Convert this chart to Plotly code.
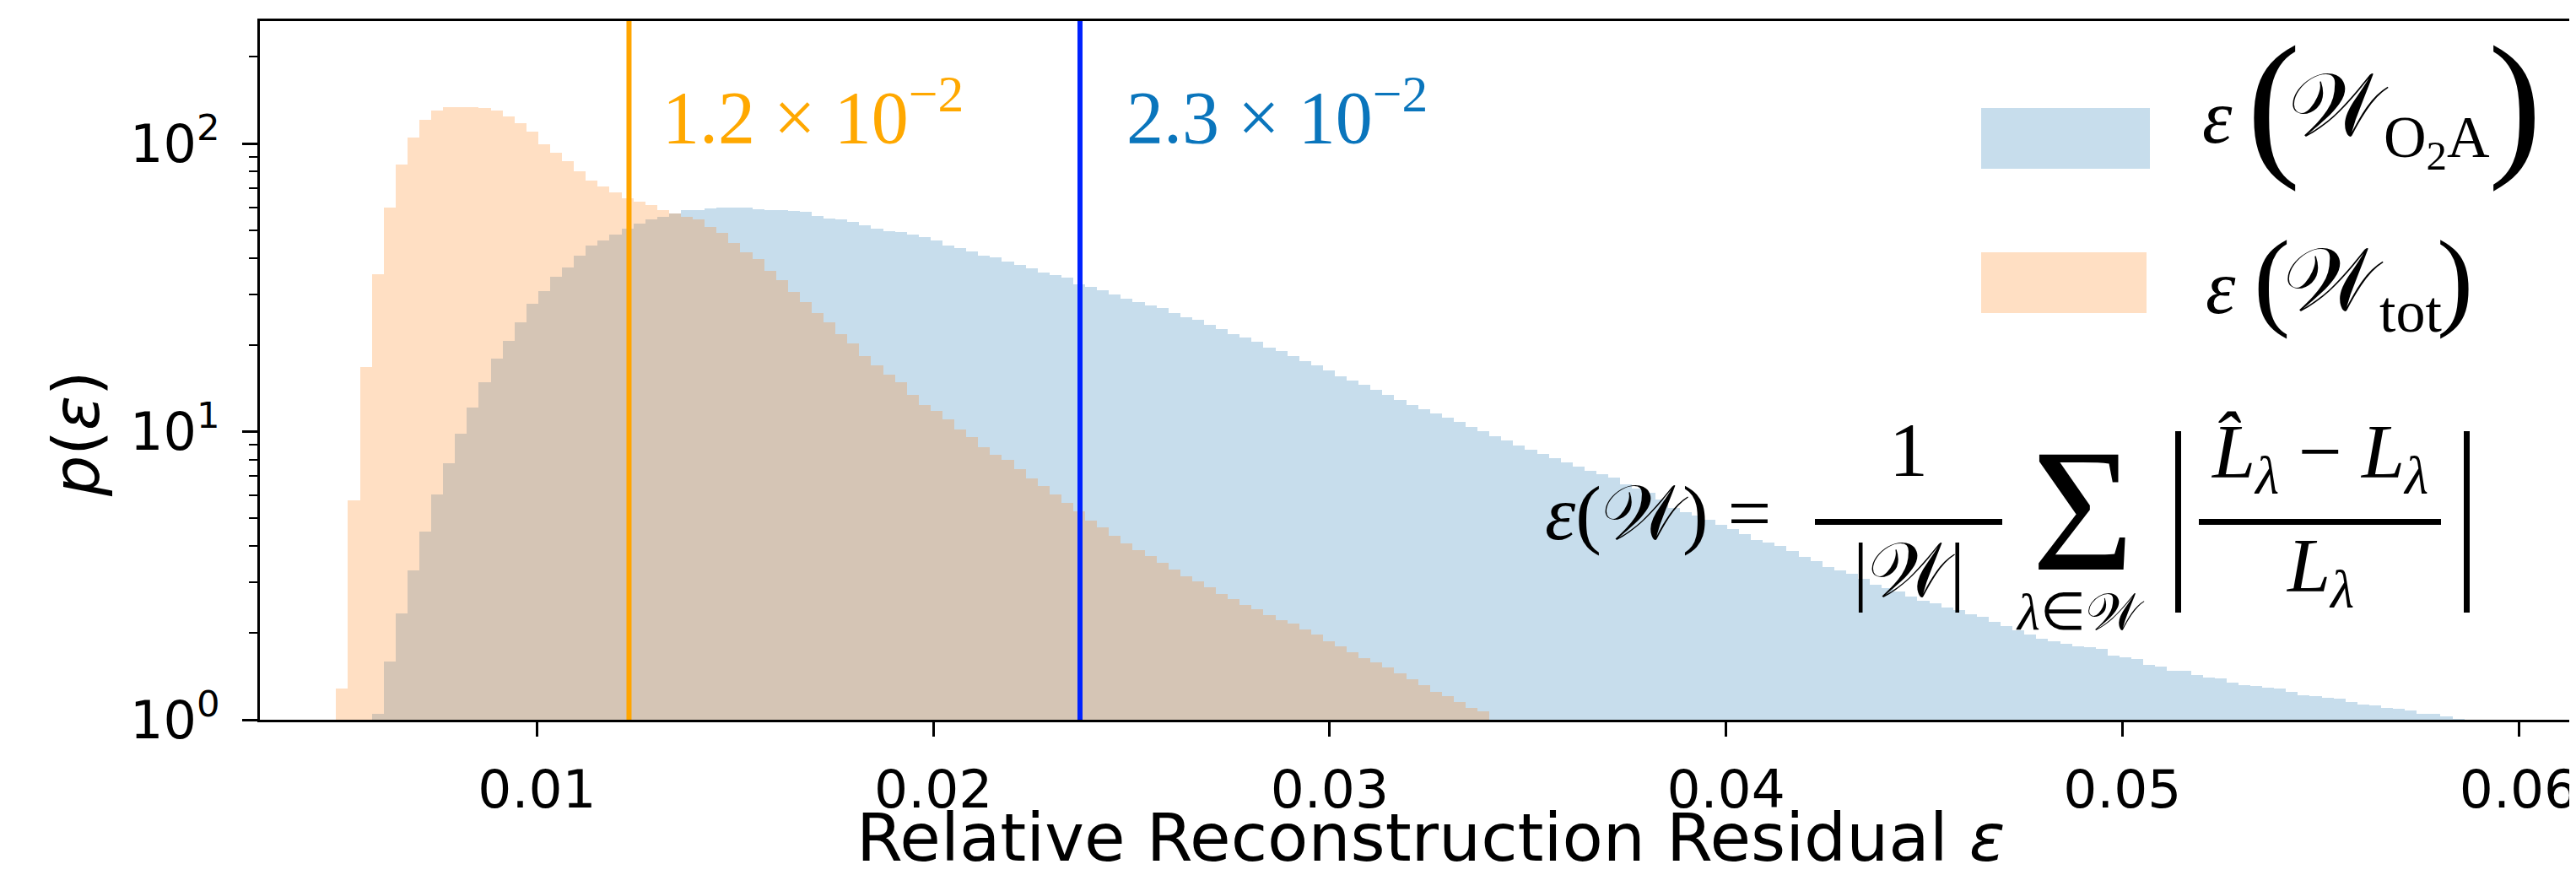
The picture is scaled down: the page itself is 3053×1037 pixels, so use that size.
import numpy as np
import plotly.graph_objects as go

# ---------------- data ----------------
BIN_WIDTH = 0.0003
TOT_FIRST_EDGE = 0.00493   # left edge of first W_tot bin
O2A_FIRST_EDGE = 0.00583   # left edge of first W_O2A bin

p_tot = [1.28, 5.77, 16.7, 35.2, 60.1, 84.3, 105, 121, 130.5, 133.6,
         133.6, 133.6, 132.7, 130, 124.3, 118, 109.8, 99.7, 92.7, 86.6,
         80, 74.6, 70.9, 67.8, 64.6, 62.8, 61.1, 58.7, 57.1, 55.7,
         54.4, 51.4, 49.0, 45.1, 41.8, 39.8, 36.2, 33.6, 30.5, 28.2,
         25.8, 24.0, 21.8, 20.2, 18.3, 17.0, 15.8, 14.8, 13.4, 12.4,
         11.8, 11.0, 10.2, 9.55, 8.82, 8.29, 7.96, 7.43, 6.89, 6.47,
         6.04, 5.67, 5.3, 4.91, 4.66, 4.35, 4.10, 3.88, 3.69, 3.50,
         3.33, 3.14, 3.03, 2.88, 2.73, 2.62, 2.51, 2.42, 2.30, 2.22,
         2.15, 2.06, 1.97, 1.87, 1.80, 1.72, 1.64, 1.58, 1.52, 1.45,
         1.38, 1.32, 1.25, 1.21, 1.15, 1.10, 1.07]

p_o2a = [1.05, 1.59, 2.34, 3.30, 4.50, 6.04, 7.76, 9.84, 12.15, 14.8,
         17.9, 20.7, 24.0, 27.7, 30.7, 34.4, 37.1, 40.8, 44.2, 46.1,
         48.2, 50.6, 52.9, 54.4, 55.7, 57.1, 58.7, 58.7, 59.7, 60.1,
         60.1, 60.1, 59.0, 58.7, 58.7, 58.3, 57.9, 56.1, 54.8, 54.4,
         53.4, 52.0, 50.6, 49.7, 49.4, 48.2, 47.4, 46.1, 44.1, 43.5,
         42.3, 40.8, 40.2, 38.8, 37.8, 36.8, 35.6, 35.0, 34.2, 32.4,
         31.8, 31.0, 30.0, 28.9, 28.2, 27.5, 26.8, 25.8, 25.0, 24.4,
         23.5, 22.7, 21.8, 21.2, 20.5, 19.6, 19.0, 18.3, 17.6, 17.0,
         16.3, 15.6, 15.0, 14.5, 14.0, 13.4, 12.9, 12.4, 12.0, 11.6,
         11.2, 10.8, 10.4, 10.05, 9.62, 9.29, 8.97, 8.67, 8.37, 8.09,
         7.81, 7.55, 7.30, 7.12, 6.93, 6.58, 6.36, 6.14, 5.8, 5.43,
         5.27, 5.10, 4.93, 4.76, 4.60, 4.40, 4.21, 4.12, 4.01, 3.85,
         3.68, 3.55, 3.40, 3.29, 3.21, 3.09, 2.94, 2.87, 2.78, 2.68,
         2.59, 2.54, 2.45, 2.40, 2.32, 2.27, 2.19, 2.12, 2.05, 1.98,
         1.91, 1.87, 1.83, 1.80, 1.79, 1.76, 1.67, 1.65, 1.62, 1.55,
         1.53, 1.48, 1.48, 1.43, 1.40, 1.39, 1.35, 1.32, 1.31, 1.29,
         1.28, 1.25, 1.22, 1.21, 1.19, 1.18, 1.15, 1.13, 1.12, 1.10,
         1.09, 1.08, 1.05, 1.05, 1.03, 1.01]

median_tot = 0.01232
median_o2a = 0.0237
label_tot = "1.2 × 10<sup>−2</sup>"
label_o2a = "2.3 × 10<sup>−2</sup>"

x_tickvals = [0.01, 0.02, 0.03, 0.04, 0.05, 0.06]
x_ticktext = ["0.01", "0.02", "0.03", "0.04", "0.05", "0.06"]
y_tickvals = [1, 10, 100]
y_ticktext = ["10<sup>0</sup>", "10<sup>1</sup>", "10<sup>2</sup>"]
y_minor = [2, 3, 4, 5, 6, 7, 8, 9, 20, 30, 40, 50, 60, 70, 80, 90, 200]

# ---------------- styling ----------------
W, H = 3053, 1037
L, T, B = 300, 17, 845          # plot area pixel edges (right edge = W)
BLUE_FILL = "rgba(31,119,180,0.25)"
ORANGE_FILL = "rgba(255,127,14,0.25)"
SERIF = "Liberation Serif, Times New Roman, serif"
SANS = "DejaVu Sans"


def PX(x):
    return (x - L) / (W - L)


def PY(y):
    return (B - y) / (B - T)


def centers(first_edge, n):
    return first_edge + BIN_WIDTH * (np.arange(n) + 0.5)


fig = go.Figure()
fig.add_trace(go.Bar(x=centers(O2A_FIRST_EDGE, len(p_o2a)), y=p_o2a, width=BIN_WIDTH,
                     marker=dict(color=BLUE_FILL, line=dict(width=0)), showlegend=False))
fig.add_trace(go.Bar(x=centers(TOT_FIRST_EDGE, len(p_tot)), y=p_tot, width=BIN_WIDTH,
                     marker=dict(color=ORANGE_FILL, line=dict(width=0)), showlegend=False))

shapes = [
    dict(type="line", xref="x", yref="paper", x0=median_tot, x1=median_tot, y0=0, y1=1,
         line=dict(color="#FFA500", width=6), layer="above"),
    dict(type="line", xref="x", yref="paper", x0=median_o2a, x1=median_o2a, y0=0, y1=1,
         line=dict(color="#0022FF", width=6), layer="above"),
    # legend patches
    dict(type="rect", xref="paper", yref="paper", x0=PX(2340), x1=PX(2540), y0=PY(192), y1=PY(120),
         fillcolor=BLUE_FILL, line=dict(width=0)),
    dict(type="rect", xref="paper", yref="paper", x0=PX(2340), x1=PX(2536), y0=PY(363), y1=PY(291),
         fillcolor=ORANGE_FILL, line=dict(width=0)),
    # fraction bars and abs bars of the formula
    dict(type="line", xref="paper", yref="paper", x0=PX(2143), x1=PX(2365), y0=PY(610.5), y1=PY(610.5),
         line=dict(color="black", width=7)),
    dict(type="line", xref="paper", yref="paper", x0=PX(2598), x1=PX(2885), y0=PY(610.5), y1=PY(610.5),
         line=dict(color="black", width=7)),
    dict(type="line", xref="paper", yref="paper", x0=PX(2573.5), x1=PX(2573.5), y0=PY(503), y1=PY(718),
         line=dict(color="black", width=7)),
    dict(type="line", xref="paper", yref="paper", x0=PX(2915.5), x1=PX(2915.5), y0=PY(503), y1=PY(718),
         line=dict(color="black", width=7)),
]


def ann(text, x, y, size, color="black", family=SERIF, xanchor="center", yanchor="middle", angle=0):
    return dict(text=text, x=PX(x), y=PY(y), xref="paper", yref="paper", showarrow=False,
                xanchor=xanchor, yanchor=yanchor, textangle=angle, borderpad=0,
                font=dict(size=size, color=color, family=family))


annotations = [
    ann(label_tot, 776, 124, 88, color="#FFA800", xanchor="left"),
    ann(label_o2a, 1326, 124, 88, color="#0A75BC", xanchor="left"),
    # legend labels
    ann("<i>ε</i>", 2620, 130, 90),
    ann("(", 2686, 114, 190),
    ann("𝒲", 2763, 118, 106),
    ann("O<sub>2</sub>A", 2816, 160, 70, xanchor="left"),
    ann(")", 2972, 114, 190),
    ann("<i>ε</i>", 2624, 332, 90),
    ann("(", 2684, 322, 130),
    ann("𝒲", 2757, 324, 106),
    ann("tot", 2811, 362, 70, xanchor="left"),
    ann(")", 2901, 322, 130),
    # formula
    ann("<i>ε</i>(𝒲) =", 1822, 600, 92, xanchor="left"),
    ann("1", 2254, 525, 92),
    ann("|𝒲|", 2254, 668, 92),
    ann("Σ", 2460, 597, 208),
    ann("<i>λ</i>∈𝒲", 2457, 717, 62),
    ann("<i>L̂</i><sub><i>λ</i></sub> − <i>L</i><sub><i>λ</i></sub>", 2741, 533, 92),
    ann("<i>L</i><sub><i>λ</i></sub>", 2741, 668, 92),
    # axis titles
    ann("Relative Reconstruction Residual <i>ε</i>", 1687, 985, 79, family=SANS),
    ann("<i>p</i>(<i>ε</i>)", 83, 506, 76, family=SANS, angle=-90),
]

x_lo = 0.01 - (628.5 - L) / 46970
x_hi = 0.01 + (W - 628.5) / 46970

fig.update_layout(
    width=W, height=H,
    margin=dict(l=L, r=0, t=T, b=H - B, pad=0),
    paper_bgcolor="white", plot_bgcolor="white",
    barmode="overlay", bargap=0,
    shapes=shapes, annotations=annotations,
    xaxis=dict(range=[x_lo, x_hi], tickvals=x_tickvals, ticktext=x_ticktext,
               ticks="outside", ticklen=17, tickwidth=3, tickcolor="black",
               showline=True, linecolor="black", linewidth=3, mirror=True,
               showgrid=False, zeroline=False, ticklabelstandoff=8,
               tickfont=dict(family=SANS, size=63, color="black")),
    yaxis=dict(type="log", range=[0, np.log10(266)], tickvals=y_tickvals, ticktext=y_ticktext,
               ticks="outside", ticklen=18, tickwidth=3, tickcolor="black",
               showline=True, linecolor="black", linewidth=3, mirror=False,
               showgrid=False, zeroline=False, ticklabelstandoff=14,
               minor=dict(tickvals=y_minor, ticks="outside", ticklen=10, tickwidth=2,
                          tickcolor="black", showgrid=False),
               tickfont=dict(family=SANS, size=62, color="black")),
)

fig.write_html("out.html")
